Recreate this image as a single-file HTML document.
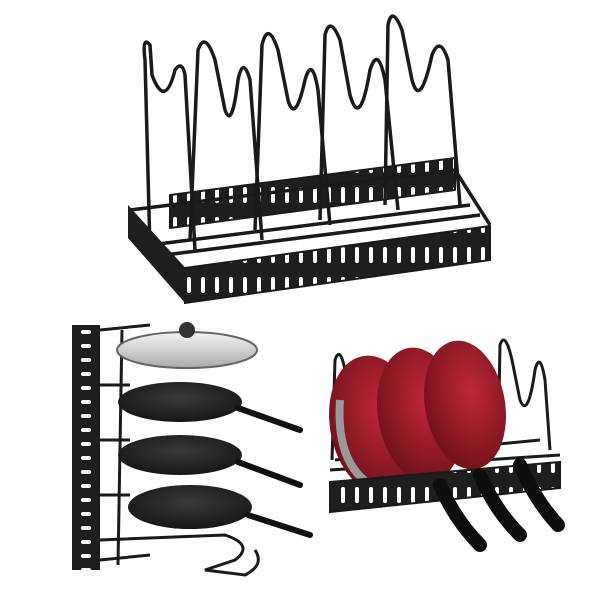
<!DOCTYPE html>
<html><head><meta charset="utf-8"><style>html,body{margin:0;padding:0;background:#fff}svg{display:block}</style></head>
<body>
<svg width="600" height="600" viewBox="0 0 600 600" xmlns="http://www.w3.org/2000/svg">
<defs>
<pattern id="slots" width="14" height="30" patternUnits="userSpaceOnUse">
<rect width="14" height="30" fill="#1e1e1e"/><rect x="5" y="7" width="4" height="16" rx="2" fill="#fff"/>
</pattern>
<pattern id="vslots" x="72" y="325" width="28" height="14" patternUnits="userSpaceOnUse">
<rect width="28" height="14" fill="#1e1e1e"/><rect x="9" y="5" width="10" height="4" rx="2" fill="#fff"/>
</pattern>
<radialGradient id="red" cx="0.6" cy="0.4" r="0.7"><stop offset="0" stop-color="#c0283a"/><stop offset="1" stop-color="#6a0f18"/></radialGradient>
<radialGradient id="pan" cx="0.5" cy="0.4" r="0.7"><stop offset="0" stop-color="#3a3a3a"/><stop offset="1" stop-color="#111"/></radialGradient>
<linearGradient id="lid" x1="0" x2="0" y1="0" y2="1"><stop offset="0" stop-color="#f4f4f4"/><stop offset="1" stop-color="#aaa"/></linearGradient>
</defs>
<g fill="none" stroke="#1a1a1a" stroke-width="3.5" stroke-linejoin="round">
<polygon points="170,195 455,158 455,190 170,228" fill="url(#slots)" stroke="#1a1a1a" stroke-width="2"/>
<path d="M130 210 L185 270 M455 170 L490 225 M130 210 L455 170 M150 245 L470 205 M165 255 L480 215"/>
<path d="M150 250 L145 60 Q142 35 150 45 L152 75 Q165 110 175 70 Q182 60 185 75 L195 250"/>
<path d="M190 240 L198 50 Q205 30 215 60 L225 110 Q232 130 238 80 Q243 55 250 80 L262 240"/>
<path d="M255 230 L262 45 Q268 20 278 50 L288 100 Q295 125 305 80 Q312 55 318 90 L330 225"/>
<path d="M320 220 L325 35 Q330 15 340 40 L350 95 Q360 130 370 70 Q378 45 385 80 L398 210"/>
<path d="M385 205 L388 25 Q392 5 402 30 L412 80 Q420 110 432 55 Q440 35 448 60 L460 205"/>
</g>
<polygon points="185,268 490,226 490,260 185,303" fill="url(#slots)" stroke="#1a1a1a" stroke-width="2"/>
<polygon points="128,205 185,268 185,303 128,238" fill="#1e1e1e"/>

<rect x="72" y="325" width="28" height="245" fill="url(#vslots)"/>
<g fill="none" stroke="#1a1a1a" stroke-width="3">
<path d="M100 330 L150 325 M100 385 L130 385 M100 440 L130 440 M100 495 L130 495 M100 560 L150 555 M100 540 L225 535 Q255 545 235 560 L205 570 L245 575 Q265 565 255 550"/>
<path d="M122 330 L118 565"/>
</g>
<ellipse cx="187" cy="350" rx="70" ry="18" fill="url(#lid)" stroke="#666" stroke-width="2"/>
<circle cx="187" cy="330" r="8" fill="#333"/>
<ellipse cx="180" cy="402" rx="62" ry="20" fill="url(#pan)"/>
<path d="M238 408 L300 430" stroke="#111" stroke-width="6" stroke-linecap="round"/>
<ellipse cx="180" cy="455" rx="62" ry="20" fill="url(#pan)"/>
<path d="M238 462 L300 485" stroke="#111" stroke-width="6" stroke-linecap="round"/>
<ellipse cx="190" cy="507" rx="62" ry="22" fill="url(#pan)"/>
<path d="M248 515 L310 535" stroke="#111" stroke-width="6" stroke-linecap="round"/>

<g fill="none" stroke="#1a1a1a" stroke-width="3">
<path d="M332 460 L335 360 Q340 345 345 370 L350 420 M498 450 L500 345 Q505 330 512 360 L520 400 Q528 420 535 370 Q540 350 545 380 L550 450"/>
<path d="M330 470 L560 455 M335 460 L540 440"/>
</g>
<ellipse cx="375" cy="425" rx="45" ry="70" fill="url(#red)" transform="rotate(-10 375 425)"/>
<path d="M340 400 Q335 470 380 490" stroke="#999" stroke-width="8" fill="none"/>
<ellipse cx="420" cy="415" rx="42" ry="68" fill="url(#red)" transform="rotate(-10 420 415)"/>
<ellipse cx="465" cy="405" rx="40" ry="65" fill="url(#red)" transform="rotate(-10 465 405)"/>
<polygon points="330,482 560,462 560,488 330,512" fill="url(#slots)" stroke="#1a1a1a" stroke-width="2"/>
<g stroke="#0e0e0e" stroke-width="14" stroke-linecap="round" fill="none">
<path d="M440 485 Q455 520 480 545"/>
<path d="M480 475 Q495 510 520 535"/>
<path d="M520 465 Q535 500 558 525"/>
</g>
</svg>
</body></html>
